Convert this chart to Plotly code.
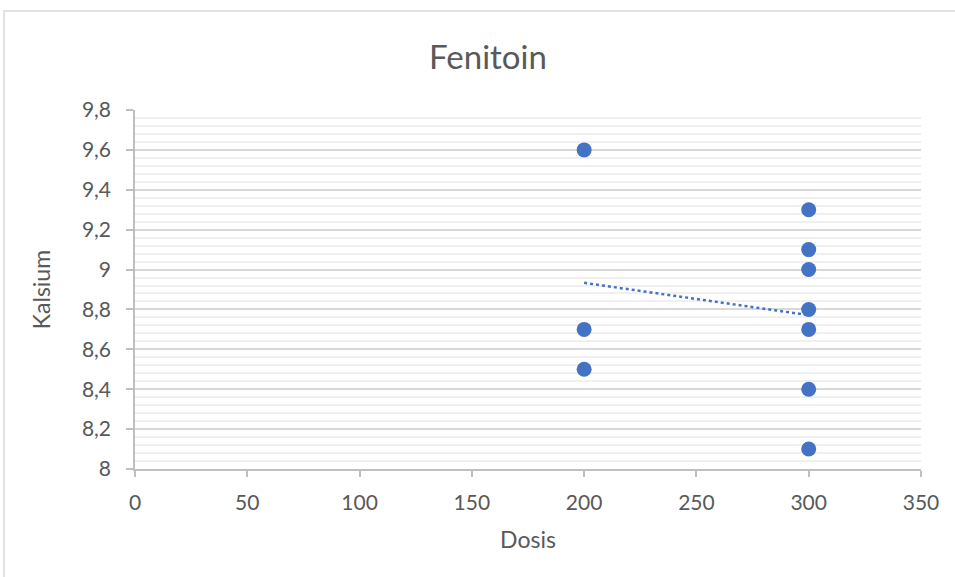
import numpy as np
import plotly.graph_objects as go

dosis = [200, 200, 200, 300, 300, 300, 300, 300, 300, 300]
kalsium = [9.6, 8.7, 8.5, 9.3, 9.1, 9.0, 8.8, 8.7, 8.4, 8.1]

y_tickvals = [8.0, 8.2, 8.4, 8.6, 8.8, 9.0, 9.2, 9.4, 9.6, 9.8]
y_ticktext = ["8", "8,2", "8,4", "8,6", "8,8", "9", "9,2", "9,4", "9,6", "9,8"]
x_tickvals = [0, 50, 100, 150, 200, 250, 300, 350]

BLUE = "#4472C4"
FONT = "Lato"

slope, intercept = np.polyfit(dosis, kalsium, 1)
tx = [min(dosis), max(dosis)]
ty = [slope * v + intercept for v in tx]

fig = go.Figure()
fig.add_trace(go.Scatter(x=tx, y=ty, mode="lines",
                         line=dict(color=BLUE, width=2.5, dash="dot"),
                         hoverinfo="skip", showlegend=False))
fig.add_trace(go.Scatter(x=dosis, y=kalsium, mode="markers",
                         marker=dict(color=BLUE, size=15),
                         showlegend=False))

fig.update_layout(
    width=955, height=577,
    margin=dict(l=135, r=34, t=110, b=108),
    paper_bgcolor="white", plot_bgcolor="white",
    font=dict(family=FONT, color="#595959", size=21),
    title=dict(text="Fenitoin", x=488 / 955, xanchor="center", xref="container",
               y=1 - 57 / 577, yanchor="middle",
               font=dict(family=FONT, size=33, color="#595959")),
    shapes=[dict(type="rect", xref="paper", yref="paper",
                 x0=-131 / 786, x1=1.2, y0=-0.6, y1=1 + 99 / 359,
                 line=dict(color="#D9D9D9", width=1.5), layer="below")],
)
fig.update_xaxes(range=[0, 350], tickvals=x_tickvals,
                 showgrid=False, zeroline=False,
                 showline=True, linecolor="#BFBFBF", linewidth=1.5,
                 ticks="outside", ticklen=6, tickcolor="#BFBFBF", tickwidth=1.5,
                 ticklabelstandoff=8,
                 tickfont=dict(size=21),
                 title=dict(text="Dosis", standoff=19, font=dict(size=23, color="#595959")))
fig.update_yaxes(range=[8, 9.8], tickvals=y_tickvals, ticktext=y_ticktext,
                 showgrid=True, gridcolor="#D9D9D9", gridwidth=1.5,
                 zeroline=False,
                 showline=True, linecolor="#BFBFBF", linewidth=1.5,
                 ticks="outside", ticklen=7, tickcolor="#BFBFBF", tickwidth=1.5,
                 ticklabelstandoff=11,
                 tickfont=dict(size=21),
                 minor=dict(dtick=0.04, tick0=8, showgrid=True, gridcolor="#F0F0F0", gridwidth=1.5),
                 title=dict(text="Kalsium", standoff=25, font=dict(size=23, color="#595959")))

fig.write_html("out.html", post_script="document.body.style.margin='0';",
               config={"displayModeBar": False})
